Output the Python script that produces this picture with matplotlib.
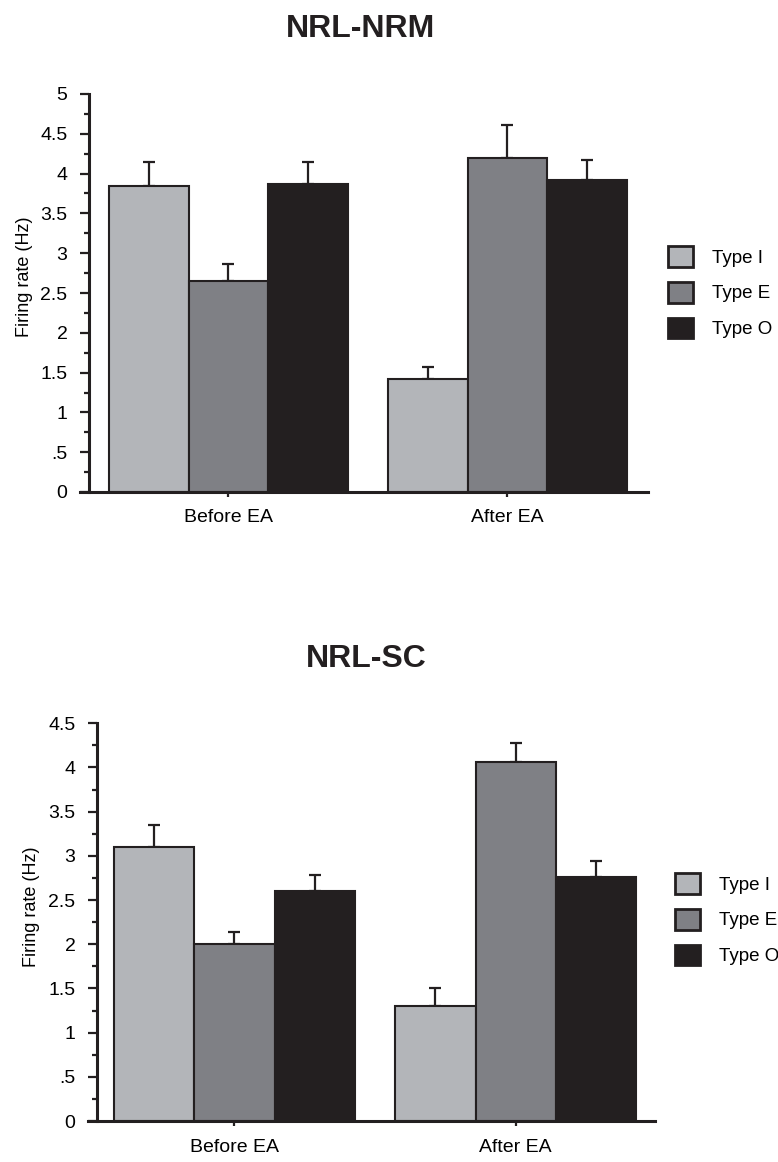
import numpy as np
import matplotlib
matplotlib.use('Agg')
import matplotlib.pyplot as plt

plt.rcParams['font.family'] = ['Liberation Sans', 'DejaVu Sans']

# data
groups = ['Before EA', 'After EA']
types = ['Type I', 'Type E', 'Type O']
nrm_means = [[3.85, 1.42], [2.65, 4.19], [3.87, 3.92]]
nrm_errs = [[0.30, 0.15], [0.21, 0.42], [0.28, 0.25]]
sc_means = [[3.10, 1.30], [2.00, 4.06], [2.60, 2.76]]
sc_errs = [[0.25, 0.20], [0.14, 0.22], [0.18, 0.18]]

colors = ['#b3b5b9', '#7f8085', '#231f20']
edge = '#231f20'
W, H = 778, 1162


def panel(ax, means, errs, ymax, xlim, leg_xy, ylab_xy):
	# spine position first, it resets the ticks
	ax.spines['left'].set_position(('axes', 9 / 568))
	w = 0.285
	x = np.arange(len(groups))
	handles = []
	for i in range(len(types)):
		e = np.array(errs[i])
		b = ax.bar(x + (i - 1) * w, means[i], w, color=colors[i], edgecolor=edge, linewidth=1.5,
			yerr=[np.zeros_like(e), e], zorder=2,
			error_kw=dict(ecolor=edge, elinewidth=1.6, capsize=4, capthick=1.6, zorder=1))
		handles.append(b)
	ax.set_xlim(*xlim)
	ax.set_ylim(0, ymax)
	ticks = np.arange(0, ymax + 0.01, 0.5)
	labs = ['0' if t == 0 else ('.5' if t == 0.5 else ('%g' % t)) for t in ticks]
	ax.set_yticks(ticks)
	ax.set_yticklabels(labs)
	ax.set_yticks(np.arange(0, ymax + 0.01, 0.25), minor=True)
	ax.set_xticks(x)
	ax.set_xticklabels(groups)
	ax.tick_params(axis='x', which='minor', bottom=False)
	ax.tick_params(axis='y', which='major', length=6.5, width=1.6, pad=9, color=edge, labelsize=14)
	ax.tick_params(axis='y', which='minor', length=3.3, width=1.6, color=edge)
	ax.tick_params(axis='x', which='major', length=3.6, width=1.6, pad=9, color=edge, labelsize=14)
	for s in ['top', 'right']:
		ax.spines[s].set_visible(False)
	for s in ['left', 'bottom']:
		ax.spines[s].set_linewidth(2.2)
		ax.spines[s].set_color(edge)
	ax.set_ylabel('Firing rate (Hz)', fontsize=13, va='center')
	ax.yaxis.set_label_coords(*ylab_xy)
	leg = ax.legend(handles, types, loc='upper left', bbox_to_anchor=(leg_xy[0] / W, 1 - leg_xy[1] / H),
		bbox_transform=ax.figure.transFigure, frameon=False, fontsize=13.5,
		handlelength=1.33, handleheight=1.33, handletextpad=1.0, labelspacing=0.8,
		borderpad=0, borderaxespad=0)
	for p in leg.get_patches():
		p.set_linewidth(2)


fig = plt.figure(figsize=(W / 100, H / 100), dpi=100)
ax1 = fig.add_axes([80 / W, 1 - 492 / H, 568 / W, 398 / H])
ax2 = fig.add_axes([88 / W, 1 - 1121 / H, 567 / W, 397.7 / H])

panel(ax1, nrm_means, nrm_errs, 5, (-0.532, 1.504), (668, 246), (-0.097, 0.54))
panel(ax2, sc_means, sc_errs, 4.5, (-0.521, 1.496), (675, 873), (-0.099, 0.538))

fig.text(361 / W, 1 - 37 / H, 'NRL-NRM', ha='center', va='baseline', fontsize=23, fontweight='bold', color=edge)
fig.text(366 / W, 1 - 667 / H, 'NRL-SC', ha='center', va='baseline', fontsize=23, fontweight='bold', color=edge)

fig.savefig('out.png', dpi=100)
